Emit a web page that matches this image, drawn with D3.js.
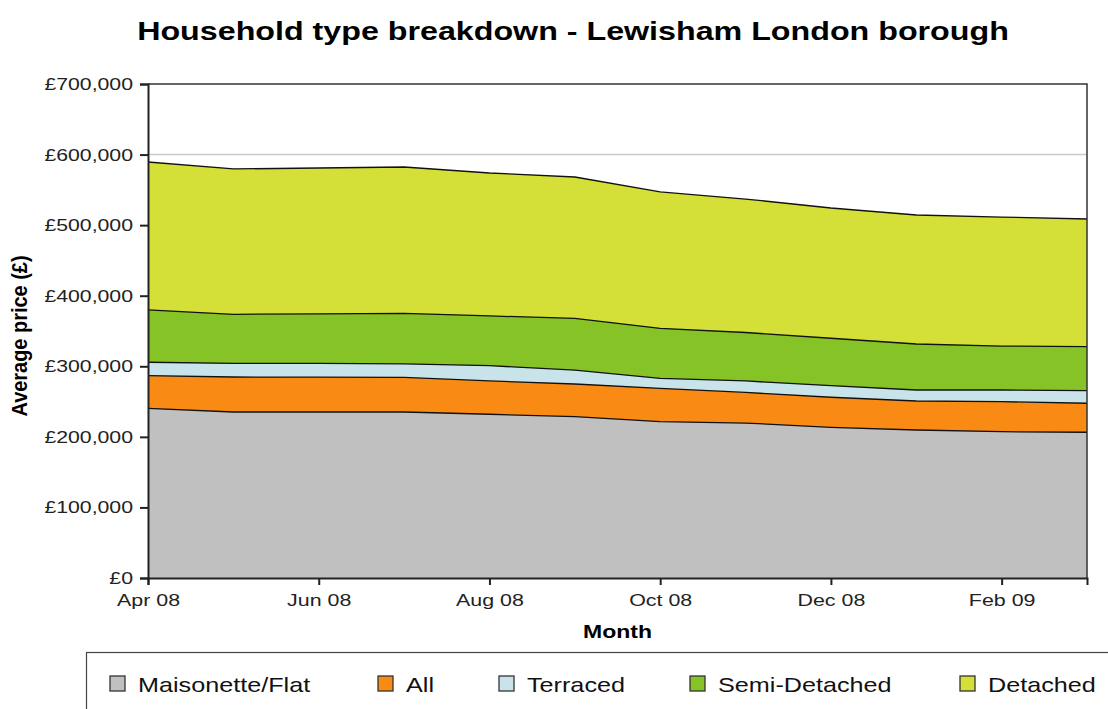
<!DOCTYPE html>
<html>
<head>
<meta charset="utf-8">
<script src="https://cdn.jsdelivr.net/npm/d3@7"></script>
<style>
body { margin: 0; background: #fff; }
svg { font-family: "Liberation Sans", Arial, sans-serif; }
</style>
</head>
<body>
<svg id="chart" width="1108" height="709"></svg>
<script>
// months on the x axis
var months = ["Apr 08","May 08","Jun 08","Jul 08","Aug 08","Sep 08","Oct 08","Nov 08","Dec 08","Jan 09","Feb 09","Mar 09"];
var tickMonths = ["Apr 08","Jun 08","Aug 08","Oct 08","Dec 08","Feb 09"];
var yTicks = [0,100000,200000,300000,400000,500000,600000,700000];

// average price by household type (£)
var flat     = [240500,235200,235200,235200,232000,228600,221500,219600,213500,209700,207300,206500];
var all      = [286700,284800,284500,284400,279200,274900,268800,262900,256100,250800,249800,247600];
var terraced = [305700,304000,304000,303500,300800,294700,283000,279200,272500,266400,266400,265400];
var semi     = [379800,373700,374400,375100,371300,368000,353800,347900,339700,331600,328700,327800];
var detached = [589500,579600,581000,582400,573900,568200,547000,537000,524300,514400,511500,508700];

var seriesNames = ["Maisonette/Flat","All","Terraced","Semi-Detached","Detached"];
var seriesValues = [flat, all, terraced, semi, detached];
var seriesColors = ["#c0c0c0","#f98b14","#c8e4ea","#86c326","#d4e038"];

var svg = d3.select("#chart");
var plotL = 148, plotR = 1087, plotT = 84, plotB = 578;

var x = d3.scalePoint().domain(months).range([plotL, plotR]);
var y = d3.scaleLinear().domain([0, 700000]).range([plotB, plotT]);

// the source image is wider than tall, so texts get a horizontal stretch
function stretch(sel, sx) {
    sel.each(function() {
        var t = d3.select(this);
        var tx = +t.attr("x") || 0, ty = +t.attr("y") || 0;
        t.attr("x", 0).attr("y", 0)
         .attr("transform", "translate(" + tx + "," + ty + ") scale(" + sx + ",1)");
    });
}

// title
svg.append("text")
    .attr("x", 573).attr("y", 40)
    .attr("text-anchor", "middle")
    .style("font-size", "26px").style("font-weight", "bold")
    .text("Household type breakdown - Lewisham London borough")
    .call(stretch, 1.24);

// grid lines (only visible above the areas)
svg.append("g").selectAll("line")
    .data(yTicks.slice(1, -1))
    .enter().append("line")
    .attr("x1", plotL).attr("x2", plotR)
    .attr("y1", d => y(d)).attr("y2", d => y(d))
    .attr("stroke", "#cccccc").attr("stroke-width", 1.5);

var area = d3.area()
    .x((d, i) => x(months[i]))
    .y0(y(0))
    .y1(d => y(d));
var line = d3.line()
    .x((d, i) => x(months[i]))
    .y(d => y(d));

// draw largest first so smaller ones sit on top
var order = [4, 3, 2, 1, 0];
var g = svg.append("g");
order.forEach(function(k) {
    g.append("path")
        .attr("d", area(seriesValues[k]))
        .attr("fill", seriesColors[k]);
    g.append("path")
        .attr("d", line(seriesValues[k]))
        .attr("fill", "none")
        .attr("stroke", "#111")
        .attr("stroke-width", 1.3)
        .attr("stroke-linejoin", "round");
});

// frame top and right
svg.append("path")
    .attr("d", "M" + plotL + "," + plotT + "H" + plotR + "V" + plotB)
    .attr("fill", "none").attr("stroke", "#333").attr("stroke-width", 1.5);

// y axis
var yAxis = svg.append("g")
    .attr("transform", "translate(" + plotL + ",0)")
    .call(d3.axisLeft(y).tickValues(yTicks).tickSize(8).tickPadding(7)
        .tickFormat(d => "£" + d3.format(",")(d)));
yAxis.selectAll("text").style("font-size", "17px").attr("fill", "#222")
    .call(stretch, 1.25);
yAxis.selectAll("line, path").attr("stroke", "#222").attr("stroke-width", 2);

// x axis
var xAxis = svg.append("g")
    .attr("transform", "translate(0," + plotB + ")")
    .call(d3.axisBottom(x).tickValues(tickMonths).tickSize(7).tickPadding(9));
xAxis.selectAll("text").style("font-size", "17px").attr("fill", "#222")
    .call(stretch, 1.26);
xAxis.selectAll("line, path").attr("stroke", "#222").attr("stroke-width", 2);

// axis titles
svg.append("text")
    .attr("x", (plotL + plotR) / 2).attr("y", 638)
    .attr("text-anchor", "middle")
    .style("font-size", "18px").style("font-weight", "bold")
    .text("Month")
    .call(stretch, 1.28);
svg.append("text")
    .attr("transform", "translate(27,336) rotate(-90) scale(1.05,1.2)")
    .attr("text-anchor", "middle")
    .style("font-size", "19px").style("font-weight", "bold")
    .text("Average price (£)");

// legend
svg.append("rect")
    .attr("x", 86.5).attr("y", 652.5).attr("width", 1040).attr("height", 80)
    .attr("fill", "#fff").attr("stroke", "#444").attr("stroke-width", 1.2);
var legendX = [110, 378, 499, 690, 960];
var lg = svg.append("g").selectAll("g")
    .data(seriesNames)
    .enter().append("g")
    .attr("transform", (d, i) => "translate(" + legendX[i] + ",676)");
lg.append("rect")
    .attr("width", 15).attr("height", 15)
    .attr("fill", (d, i) => seriesColors[i])
    .attr("stroke", "#333").attr("stroke-width", 1.3);
lg.append("text")
    .attr("x", 28).attr("y", 16)
    .style("font-size", "20px").attr("fill", "#111")
    .text(d => d)
    .call(stretch, 1.26);
</script>
</body>
</html>
